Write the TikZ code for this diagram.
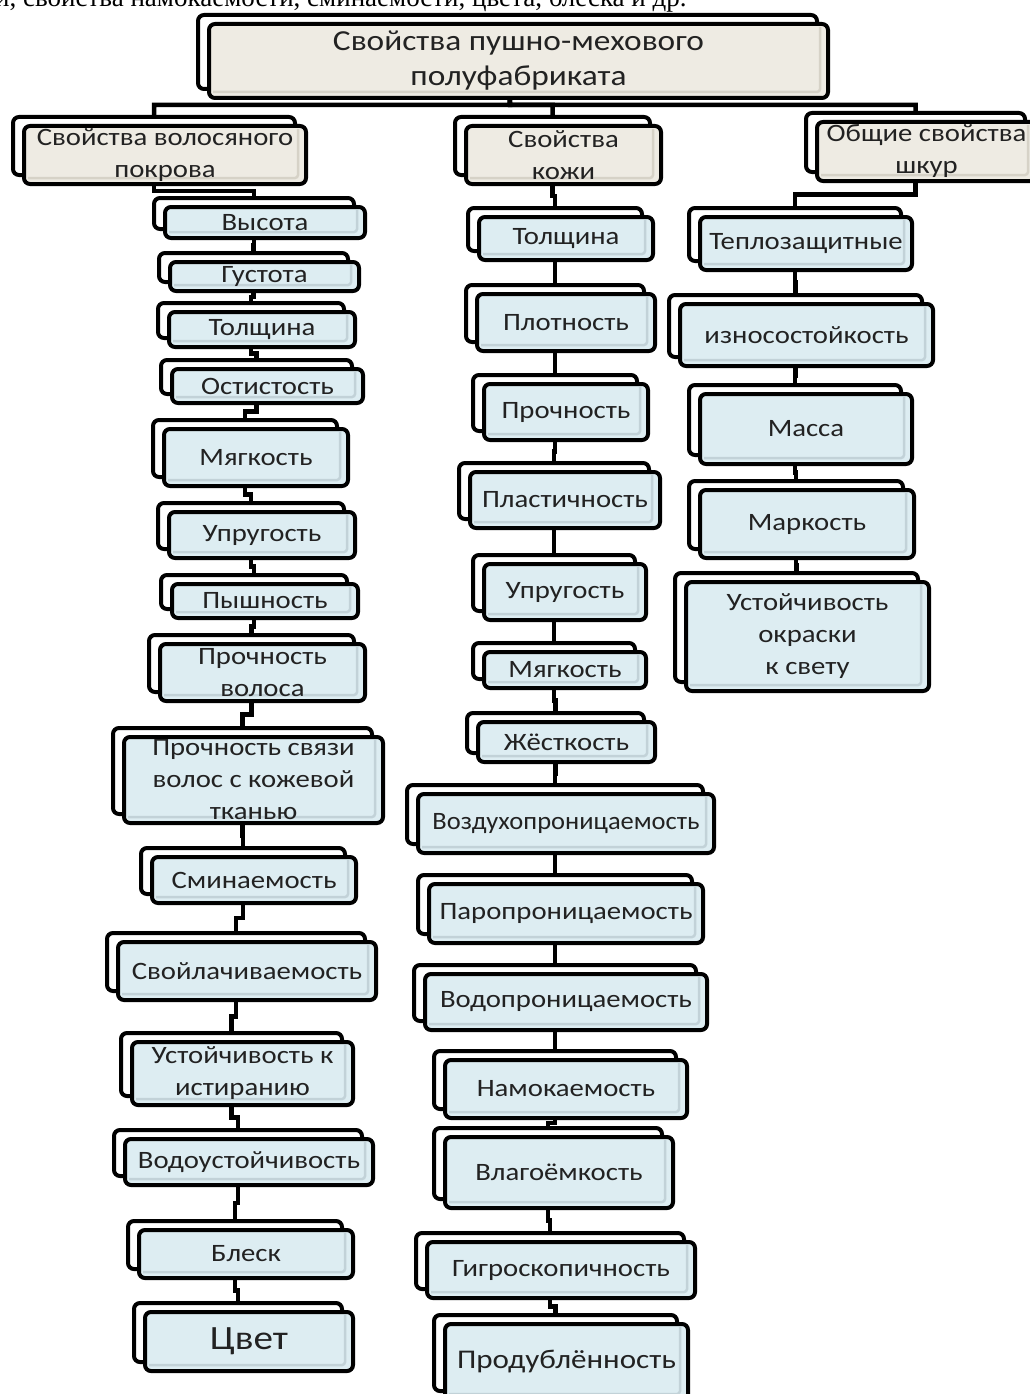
\documentclass[tikz,border=0pt]{standalone}
\usepackage{fontspec}
\setmainfont{Carlito}[FakeStretch=1.15]
\newfontfamily\narrowfont{Carlito}[FakeStretch=1.06]
\newfontfamily\cutfont{Liberation Serif}
\usetikzlibrary{calc}
\pgfdeclarelayer{bg}
\pgfsetlayers{bg,main}
\definecolor{boxblue}{HTML}{DDEDF2}
\definecolor{boxbeige}{HTML}{EEEBE3}
\definecolor{shblue}{HTML}{C2D2D8}
\definecolor{shbeige}{HTML}{D6D2C7}
\definecolor{txt}{HTML}{222222}
\tikzset{
  basebox/.style={draw=black, line width=4pt, rounded corners=6pt, inner sep=0pt,
    align=center, text=txt, font=\fontsize{25}{32}\selectfont},
  backbox/.style={draw=black, line width=4pt, rounded corners=6pt, fill=white},
  bluebox/.style={basebox, fill=boxblue,
    path picture={\draw[shblue, line width=2.5pt, rounded corners=3pt]
      ([xshift=-8pt,yshift=-3pt]path picture bounding box.north east) --
      ([xshift=-8pt,yshift=6pt]path picture bounding box.south east) --
      ([xshift=4pt,yshift=6pt]path picture bounding box.south west);}},
  beigebox/.style={basebox, fill=boxbeige,
    path picture={\draw[shbeige, line width=2.5pt, rounded corners=3pt]
      ([xshift=-8pt,yshift=-3pt]path picture bounding box.north east) --
      ([xshift=-8pt,yshift=6pt]path picture bounding box.south east) --
      ([xshift=4pt,yshift=6pt]path picture bounding box.south west);}},
  conn/.style={draw=black, line width=4.5pt},
}
% name, x1, y1, x2, y2, style, text
\newcommand\dbox[7]{%
  \node[backbox, minimum width={#4-#2-4}, minimum height={#5-#3-4}]
    (#1-b) at ({(#2+#4)/2-11},{(#3+#5)/2-9}) {};
  \node[#6, minimum width={#4-#2-4}, minimum height={#5-#3-4}]
    (#1) at ({(#2+#4)/2},{(#3+#5)/2}) {#7};
}
\newcommand\link[2]{%
  \begin{pgfonlayer}{bg}
  \draw[conn] (#1-b.center) |- ($(#1-b.center |- #1.south)!0.5!(#1-b.center |- #2-b.north)$) -| (#2-b.north);
  \end{pgfonlayer}
}
\begin{document}
\begin{tikzpicture}[x=1pt, y=-1pt]
\useasboundingbox (0,0) rectangle (1030,1394);
\begin{pgfonlayer}{bg}
\fill[white] (0,0) rectangle (1030,1394);
\end{pgfonlayer}
\node[anchor=base west, inner sep=0pt, font=\cutfont\fontsize{27}{30}\selectfont] (cut) at (-5,7) {и, свойства намокаемости, сминаемости, цвета, блеска и др.};

% root
\dbox{root}{207}{22}{830}{100}{beigebox, font=\fontsize{29}{35}\selectfont}{Свойства пушно-мехового\\полуфабриката}
% level 1
\dbox{L1}{22}{124}{308}{186}{beigebox}{Свойства волосяного\\покрова}
\dbox{L2}{464}{124}{663}{186}{beigebox}{Свойства\\кожи}
\dbox{L3}{815}{120}{1038}{183}{beigebox}{Общие свойства\\шкур}

% left column
\dbox{h1}{163}{205}{367}{240}{bluebox}{Высота}
\dbox{h2}{168}{260}{361}{293}{bluebox}{Густота}
\dbox{h3}{167}{310}{357}{349}{bluebox}{Толщина}
\dbox{h4}{170}{367}{365}{405}{bluebox}{Остистость}
\dbox{h5}{162}{427}{350}{488}{bluebox}{Мягкость}
\dbox{h6}{167}{510}{357}{560}{bluebox}{Упругость}
\dbox{h7}{170}{582}{360}{620}{bluebox}{Пышность}
\dbox{h8}{158}{642}{367}{703}{bluebox}{Прочность\\волоса}
\dbox{h9}{122}{735}{385}{825}{bluebox}{Прочность связи\\волос с кожевой\\тканью}
\dbox{h10}{150}{855}{358}{905}{bluebox}{Сминаемость}
\dbox{h11}{116}{940}{378}{1002}{bluebox}{Свойлачиваемость}
\dbox{h12}{130}{1040}{355}{1107}{bluebox}{Устойчивость к\\истиранию}
\dbox{h13}{123}{1137}{375}{1187}{bluebox}{Водоустойчивость}
\dbox{h14}{137}{1228}{355}{1280}{bluebox}{Блеск}
\dbox{h15}{143}{1310}{355}{1373}{bluebox, font=\fontsize{34}{40}\selectfont}{Цвет}

% middle column
\dbox{s1}{477}{215}{655}{262}{bluebox}{Толщина}
\dbox{s2}{475}{292}{657}{353}{bluebox}{Плотность}
\dbox{s3}{482}{382}{650}{442}{bluebox}{Прочность}
\dbox{s4}{468}{470}{662}{530}{bluebox}{Пластичность}
\dbox{s5}{482}{562}{648}{622}{bluebox}{Упругость}
\dbox{s6}{482}{650}{648}{690}{bluebox}{Мягкость}
\dbox{s7}{476}{720}{657}{764}{bluebox}{Жёсткость}
\dbox{s8}{416}{792}{716}{855}{bluebox, font=\narrowfont\fontsize{25}{32}\selectfont}{Воздухопроницаемость}
\dbox{s9}{427}{882}{705}{945}{bluebox}{Паропроницаемость}
\dbox{s10}{423}{972}{709}{1032}{bluebox}{Водопроницаемость}
\dbox{s11}{443}{1058}{689}{1120}{bluebox}{Намокаемость}
\dbox{s12}{443}{1135}{675}{1210}{bluebox}{Влагоёмкость}
\dbox{s13}{425}{1240}{697}{1300}{bluebox}{Гигроскопичность}
\dbox{s14}{443}{1322}{690}{1402}{bluebox, font=\fontsize{27}{32}\selectfont}{Продублённость}

% right column
\dbox{o1}{698}{215}{914}{272}{bluebox}{Теплозащитные}
\dbox{o2}{678}{302}{935}{368}{bluebox}{износостойкость}
\dbox{o3}{698}{392}{914}{466}{bluebox}{Масса}
\dbox{o4}{698}{488}{916}{560}{bluebox}{Маркость}
\dbox{o5}{684}{580}{931}{693}{bluebox}{Устойчивость\\окраски\\к свету}

% root connectors
\coordinate (bus) at (510,105);
\begin{pgfonlayer}{bg}
\draw[conn] (root-b.center) -- (bus) -| (L1-b.north);
\draw[conn] (root-b.center) -- (bus) -| (L2-b.north);
\draw[conn] (root-b.center) -- (bus) -| (L3-b.north);
\end{pgfonlayer}

\link{L1}{h1}\link{h1}{h2}\link{h2}{h3}\link{h3}{h4}\link{h4}{h5}
\link{h5}{h6}\link{h6}{h7}\link{h7}{h8}\link{h8}{h9}\link{h9}{h10}
\link{h10}{h11}\link{h11}{h12}\link{h12}{h13}\link{h13}{h14}\link{h14}{h15}

\link{L2}{s1}\link{s1}{s2}\link{s2}{s3}\link{s3}{s4}\link{s4}{s5}
\link{s5}{s6}\link{s6}{s7}\link{s7}{s8}\link{s8}{s9}\link{s9}{s10}
\link{s10}{s11}\link{s11}{s12}\link{s12}{s13}\link{s13}{s14}

\link{L3}{o1}\link{o1}{o2}\link{o2}{o3}\link{o3}{o4}\link{o4}{o5}
\end{tikzpicture}
\end{document}
